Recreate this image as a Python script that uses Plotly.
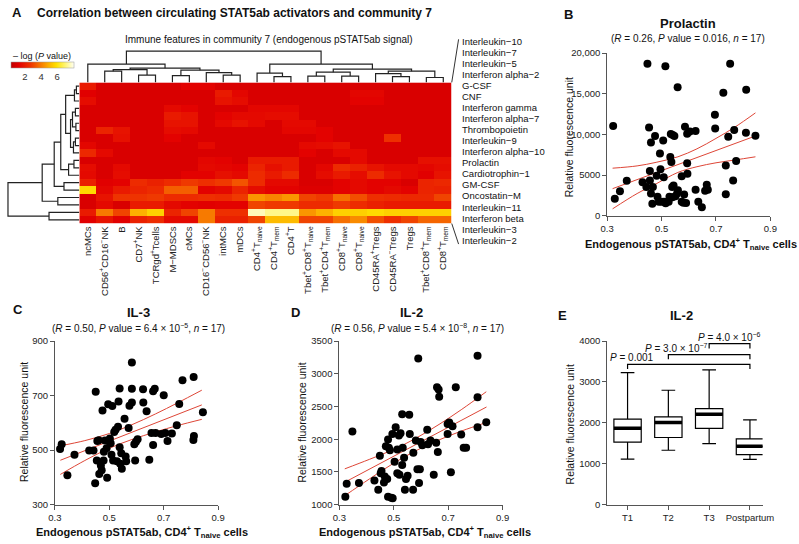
import plotly.graph_objects as go

W, H = 799, 544
FONT = "Arial, Liberation Sans, Helvetica, sans-serif"


def fx(px):
    return px / W


def fy(py):
    return 1 - py / H


# ------------------------------------------------------------------ data
cell_types = [
    "ncMCs", "CD56<sup>+</sup>CD16<sup>−</sup>NK", "B", "CD7<sup>+</sup>NK",
    "TCRgd<sup>+</sup>Tcells", "M−MDSCs", "cMCs", "CD16<sup>−</sup>CD56<sup>−</sup>NK",
    "intMCs", "mDCs", "CD4<sup>+</sup>T<sub>naive</sub>", "CD4<sup>+</sup>T<sub>mem</sub>",
    "CD4<sup>+</sup>T", "Tbet<sup>+</sup>CD8<sup>+</sup>T<sub>naive</sub>",
    "Tbet<sup>+</sup>CD4<sup>+</sup>T<sub>mem</sub>", "CD8<sup>+</sup>T<sub>naive</sub>",
    "CD8<sup>+</sup>T<sub>naive</sub>", "CD45RA<sup>+</sup>Tregs", "CD45RA<sup>−</sup>Tregs",
    "Tregs", "Tbet<sup>+</sup>CD8<sup>+</sup>T<sub>mem</sub>", "CD8<sup>+</sup>T<sub>mem</sub>",
]
cytokines = [
    "Interleukin−10", "Interleukin−7", "Interleukin−5", "Interferon alpha−2", "G-CSF", "CNF",
    "Interferon gamma", "Interferon alpha−7", "Thrombopoietin", "Interleukin−9",
    "Interferon alpha−10", "Prolactin", "Cardiotrophin−1", "GM-CSF", "Oncostatin−M",
    "Interleukin−11", "Interferon beta", "Interleukin−3", "Interleukin−2",
]
# -log10(P) per cytokine (rows) x immune feature (columns)
neglogp = [
    [2.0, 1.0, 1.0, 1.0, 1.0, 1.0, 1.3, 1.3, 1.0, 1.0, 1.0, 1.0, 1.0, 1.0, 1.0, 1.0, 1.0, 1.0, 1.0, 1.0, 1.0, 1.0],
    [1.2, 1.0, 1.0, 1.0, 1.0, 1.0, 1.0, 1.0, 2.0, 1.4, 1.0, 1.0, 1.0, 1.0, 1.0, 1.0, 1.4, 1.4, 1.0, 1.0, 1.0, 1.0],
    [1.6, 1.0, 1.0, 1.0, 1.0, 1.0, 1.0, 1.0, 1.8, 1.6, 1.0, 1.0, 1.0, 1.0, 1.0, 1.0, 1.3, 1.3, 1.0, 1.0, 1.0, 1.0],
    [1.0, 1.0, 1.0, 1.0, 1.0, 1.5, 1.3, 1.0, 1.0, 1.0, 1.4, 1.4, 1.4, 1.0, 1.0, 1.0, 1.0, 1.0, 1.0, 1.0, 1.0, 1.0],
    [1.0, 1.0, 1.0, 1.0, 1.0, 2.0, 1.8, 1.0, 1.3, 1.5, 1.5, 1.6, 1.6, 1.0, 1.0, 1.0, 1.0, 1.0, 1.0, 1.0, 1.0, 1.0],
    [1.0, 1.0, 1.0, 1.0, 1.0, 1.8, 1.8, 1.0, 1.5, 1.8, 1.5, 1.0, 1.5, 1.5, 1.0, 1.0, 1.0, 1.0, 1.0, 1.0, 1.0, 1.0],
    [1.0, 2.3, 1.8, 1.0, 1.0, 1.6, 1.5, 1.0, 1.0, 1.0, 1.0, 1.0, 1.4, 1.4, 1.3, 1.0, 1.0, 1.0, 1.0, 1.0, 1.0, 1.0],
    [1.0, 1.0, 1.7, 1.0, 1.0, 1.3, 1.0, 1.0, 1.0, 1.0, 1.0, 1.0, 1.0, 1.0, 1.3, 1.0, 1.0, 1.0, 2.6, 1.0, 1.0, 1.0],
    [1.4, 1.0, 1.0, 1.0, 1.0, 1.0, 1.0, 1.5, 1.0, 1.0, 1.0, 1.0, 1.0, 1.5, 1.6, 1.8, 1.0, 1.0, 1.0, 1.0, 1.0, 1.0],
    [2.4, 1.5, 1.0, 1.0, 1.0, 1.0, 1.0, 1.0, 1.0, 1.0, 1.0, 1.0, 1.0, 1.3, 1.0, 1.5, 1.5, 1.0, 1.0, 1.0, 1.0, 1.0],
    [1.0, 1.0, 1.0, 1.0, 1.0, 1.0, 1.0, 1.4, 1.3, 1.0, 2.0, 2.0, 2.0, 1.0, 1.0, 1.0, 1.5, 1.0, 1.0, 1.0, 1.7, 1.7],
    [1.6, 1.0, 1.5, 1.0, 1.0, 1.0, 1.0, 1.5, 1.4, 1.3, 2.3, 1.7, 2.0, 1.0, 1.4, 2.5, 2.2, 1.8, 1.5, 1.5, 1.4, 1.6],
    [1.5, 1.0, 1.6, 1.0, 1.0, 1.0, 1.3, 1.3, 1.7, 1.5, 2.5, 2.0, 2.5, 1.0, 1.6, 2.0, 1.6, 2.5, 1.8, 1.5, 1.2, 1.8],
    [2.2, 1.2, 1.3, 2.5, 2.2, 2.5, 2.8, 2.6, 2.8, 3.3, 2.5, 1.5, 1.5, 1.0, 1.0, 1.3, 1.5, 1.3, 1.3, 1.0, 2.3, 2.4],
    [5.8, 1.4, 2.0, 2.3, 2.5, 3.5, 3.5, 1.3, 1.5, 2.3, 1.6, 1.3, 1.3, 1.1, 1.1, 1.3, 1.5, 1.3, 1.5, 1.3, 2.3, 2.2],
    [1.0, 1.8, 2.7, 2.7, 2.8, 2.5, 2.5, 2.6, 2.5, 2.8, 4.5, 4.2, 4.5, 3.0, 2.8, 3.8, 3.2, 2.6, 2.5, 2.4, 2.4, 3.0],
    [1.0, 1.5, 1.0, 2.0, 2.0, 1.5, 1.3, 1.2, 1.3, 1.3, 3.0, 2.8, 2.8, 2.5, 2.5, 2.8, 2.5, 2.2, 2.0, 2.0, 2.0, 2.0],
    [2.0, 4.0, 3.0, 5.0, 5.6, 2.3, 3.0, 4.0, 2.6, 2.6, 7.6, 7.2, 7.2, 4.5, 5.0, 5.6, 5.6, 5.8, 5.6, 5.6, 5.6, 5.6],
    [1.2, 1.8, 1.2, 2.2, 2.5, 1.5, 1.5, 4.0, 2.2, 2.2, 3.0, 5.2, 5.2, 3.0, 3.0, 3.8, 4.3, 3.2, 2.6, 3.0, 3.6, 3.6],
]
colorbar_ticks = [2, 4, 6]

# dendrograms: (left, right, merge height); leaves are column / row indices
col_tree = (
    (0, (((1, 2, 11.5), (3, 4, 7.5), 13.0),
         ((5, 6, 7.0), (7, (8, 9, 7.5), 10.0), 12.5), 14.5), 18.7),
    ((10, (11, 12, 6.0), 9.5),
     (((13, 14, 6.5), (15, 16, 6.5), 10.5),
      ((17, (18, 19, 6.0), 9.0), (20, 21, 5.0), 11.5), 13.5), 18.7),
    32.0,
)
row_tree = (
    ((((((0, 1, 3.0), 2, 5.0),
         (((3, 4, 4.0), (5, 6, 3.5), 7.0), ((7, 8, 4.0), 9, 6.0), 9.0), 14.0),
        ((10, 11, 5.5), 12, 11.0), 19.0),
       (13, 14, 15.7), 25.7),
      (15, 16, 22.0), 38.0),
    (17, 18, 31.0),
    73.0,
)

# panel B: prolactin
prl_x = [0.322, 0.328, 0.347, 0.372, 0.43, 0.444, 0.448, 0.454, 0.457, 0.457, 0.461, 0.461,
         0.468, 0.466, 0.476, 0.482, 0.485, 0.49, 0.494, 0.496, 0.5, 0.506, 0.508, 0.509,
         0.514, 0.515, 0.526, 0.529, 0.532, 0.534, 0.536, 0.539, 0.54, 0.541, 0.544, 0.547,
         0.551, 0.557, 0.559, 0.56, 0.574, 0.574, 0.58, 0.583, 0.586, 0.59, 0.594, 0.594,
         0.595, 0.604, 0.625, 0.625, 0.635, 0.648, 0.66, 0.67, 0.666, 0.696, 0.697, 0.736,
         0.736, 0.727, 0.745, 0.752, 0.767, 0.763, 0.774, 0.81, 0.811, 0.845]
prl_y = [11040, 2080, 3000, 4280, 4120, 3520, 18680, 10840, 5480, 4320, 2720, 9000,
         3520, 1480, 9800, 4920, 2320, 1720, 7640, 5720, 1720, 9240, 4720, 1720,
         18360, 1520, 1720, 2320, 7200, 10040, 6600, 3520, 2280, 9920, 3720, 9800,
         2400, 2720, 15800, 3120, 4840, 1720, 1600, 2600, 10920, 1560, 6440, 10080,
         5160, 10360, 10400, 3200, 1720, 1040, 3080, 3200, 3800, 12400, 10720, 6160,
         2640, 15120, 9720, 18680, 10520, 4320, 6720, 10200, 15480, 9840]
prl_fit_x = [0.32, 0.845]
prl_fit_y = [3320, 9800]
prl_band_x = [0.32, 0.41, 0.48, 0.56, 0.63, 0.70, 0.77, 0.845]
prl_upper = [5840, 6120, 6560, 7240, 8220, 9500, 10900, 12640]
prl_lower = [840, 2720, 3920, 5320, 6020, 6500, 6850, 7240]

# panel C: IL-3
il3_x = [0.319, 0.325, 0.346, 0.372, 0.426, 0.442, 0.45, 0.448, 0.454, 0.456, 0.461, 0.463,
         0.469, 0.472, 0.475, 0.479, 0.48, 0.484, 0.49, 0.492, 0.496, 0.497, 0.502, 0.505,
         0.508, 0.511, 0.514, 0.518, 0.523, 0.528, 0.532, 0.534, 0.538, 0.538, 0.54, 0.544,
         0.546, 0.556, 0.56, 0.562, 0.571, 0.574, 0.583, 0.583, 0.583, 0.592, 0.595, 0.598,
         0.604, 0.624, 0.625, 0.637, 0.647, 0.655, 0.661, 0.661, 0.667, 0.67, 0.691, 0.7,
         0.706, 0.714, 0.73, 0.748, 0.757, 0.769, 0.81, 0.811, 0.809, 0.844]
il3_y = [504, 522, 408, 483, 499, 499, 714, 379, 462, 534, 536, 413,
         444, 426, 645, 462, 494, 535, 507, 399, 668, 534, 543, 525,
         483, 662, 462, 567, 575, 459, 586, 678, 726, 511, 450, 489,
         432, 615, 477, 459, 581, 663, 821, 675, 725, 522, 462, 531,
         540, 723, 675, 643, 465, 563, 519, 716, 725, 563, 559, 701,
         563, 534, 561, 591, 669, 756, 768, 552, 537, 639]
il3_fit_x = [0.32, 0.84]
il3_fit_y = [463, 666]
il3_band_x = [0.32, 0.41, 0.5, 0.58, 0.67, 0.75, 0.84]
il3_upper = [516, 535, 561, 592, 633, 673, 720]
il3_lower = [411, 462, 507, 538, 567, 590, 613]

# panel D: IL-2
il2_x = [0.322, 0.327, 0.348, 0.372, 0.429, 0.443, 0.449, 0.452, 0.455, 0.464, 0.467, 0.471,
         0.476, 0.479, 0.479, 0.482, 0.486, 0.491, 0.495, 0.496, 0.503, 0.507, 0.513, 0.513,
         0.519, 0.521, 0.525, 0.531, 0.531, 0.533, 0.538, 0.541, 0.545, 0.551, 0.557, 0.559,
         0.571, 0.572, 0.581, 0.587, 0.59, 0.593, 0.596, 0.599, 0.605, 0.623, 0.626, 0.635,
         0.647, 0.656, 0.659, 0.662, 0.665, 0.667, 0.698, 0.698, 0.704, 0.71, 0.716, 0.728,
         0.748, 0.757, 0.766, 0.808, 0.808, 0.808, 0.84]
il2_y = [1120, 1321, 2117, 1331, 1371, 1230, 1747, 1481, 1516, 1341, 1431, 1892,
         1391, 1997, 1120, 1872, 1832, 1105, 2082, 1100, 1656, 2182, 1842, 1481,
         2057, 1456, 2092, 2383, 1606, 1872, 1717, 1230, 1391, 1441, 2373, 2082,
         1230, 1792, 1982, 1541, 3234, 1331, 1541, 1957, 1907, 2147, 1922, 1982,
         1456, 1947, 2794, 1807, 2759, 2648, 2232, 2082, 2257, 1496, 2197, 2794,
         2072, 1872, 1872, 3275, 2643, 2183, 2258]
il2_fit_x = [0.314, 0.841]
il2_fit_y = [1330, 2493]
il2_band_x = [0.32, 0.41, 0.5, 0.58, 0.67, 0.75, 0.84]
il2_upper = [1548, 1692, 1845, 2012, 2236, 2457, 2726]
il2_lower = [1138, 1392, 1635, 1822, 1996, 2127, 2256]

# panel E: IL-2 by trimester
groups = ["T1", "T2", "T3", "Postpartum"]
box_low = [1114, 1331, 1491, 1106]
box_q1 = [1531, 1643, 1868, 1226]
box_med = [1868, 2012, 2212, 1427]
box_q3 = [2092, 2148, 2349, 1611]
box_high = [3230, 2798, 3295, 2076]
comparisons = [  # (group a, group b, bracket height, label)
    (1, 4, 3430, "<i>P</i> = 0.001"),
    (2, 4, 3670, "<i>P</i> = 3.0 × 10<sup>−7</sup>"),
    (3, 4, 3936, "<i>P</i> = 4.0 × 10<sup>−6</sup>"),
]

# ------------------------------------------------------------------ helpers
def dendro(tree):
    xs, ys = [], []

    def rec(node):
        if isinstance(node, int):
            return float(node), 0.0
        l, r, h = node
        xl, hl = rec(l)
        xr, hr = rec(r)
        xs.extend([xl, xl, xr, xr, None])
        ys.extend([hl, h, h, hr, None])
        return (xl + xr) / 2, h

    rec(tree)
    return xs, ys


fig = go.Figure()

heat_cs = [
    [0.0, "#C00000"], [0.12, "#E20000"], [0.3, "#EE3000"], [0.45, "#F67000"],
    [0.6, "#FDB000"], [0.72, "#FFE000"], [0.85, "#FFF46A"], [1.0, "#FFFFF4"],
]
fig.add_trace(go.Heatmap(
    z=neglogp, x=list(range(len(cell_types))), y=list(range(len(cytokines))),
    colorscale=heat_cs, zmin=0.3, zmax=8.1, xaxis="x", yaxis="y", hoverinfo="skip",
    colorbar=dict(orientation="h", x=fx(36.5), xanchor="center", y=fy(57), yanchor="top",
                  len=63, lenmode="pixels", thickness=6, thicknessmode="pixels",
                  xpad=0, ypad=0, outlinewidth=0.5, outlinecolor="#999",
                  tickvals=colorbar_ticks, ticks="", ticklabelposition="outside bottom",
                  tickfont=dict(size=9.5, color="#333", family=FONT)),
))

dx, dy = dendro(col_tree)
fig.add_trace(go.Scatter(x=dx, y=dy, mode="lines", line=dict(color="#222", width=1.2),
                         xaxis="x2", yaxis="y2", hoverinfo="skip", showlegend=False))
rx, ry = dendro(row_tree)
fig.add_trace(go.Scatter(x=ry, y=rx, mode="lines", line=dict(color="#222", width=1.2),
                         xaxis="x3", yaxis="y3", hoverinfo="skip", showlegend=False))

RED = "rgb(222,70,55)"


def scatter_panel(xv, yv, fitx, fity, bx, bu, bl, ax):
    xa, ya = "x" + ax, "y" + ax
    for yy, xx in ((bu, bx), (bl, bx), (fity, fitx)):
        fig.add_trace(go.Scatter(x=xx, y=yy, mode="lines", line=dict(color=RED, width=1, shape="spline"),
                                 xaxis=xa, yaxis=ya, hoverinfo="skip", showlegend=False))
    fig.add_trace(go.Scatter(x=xv, y=yv, mode="markers", marker=dict(color="black", size=8),
                             xaxis=xa, yaxis=ya, cliponaxis=False, hoverinfo="skip",
                             showlegend=False))


scatter_panel(prl_x, prl_y, prl_fit_x, prl_fit_y, prl_band_x, prl_upper, prl_lower, "4")
scatter_panel(il3_x, il3_y, il3_fit_x, il3_fit_y, il3_band_x, il3_upper, il3_lower, "5")
scatter_panel(il2_x, il2_y, il2_fit_x, il2_fit_y, il2_band_x, il2_upper, il2_lower, "6")

pos = list(range(1, len(groups) + 1))
BOXW = 0.67
fig.add_trace(go.Box(x=pos, q1=box_q1, median=box_med, q3=box_q3, lowerfence=box_low,
                     upperfence=box_high, width=BOXW, whiskerwidth=0.5, fillcolor="white",
                     line=dict(color="black", width=1.2), boxpoints=False,
                     xaxis="x7", yaxis="y7", hoverinfo="skip", showlegend=False))
mx, my = [], []
for p, m in zip(pos, box_med):
    mx += [p - BOXW / 2, p + BOXW / 2, None]
    my += [m, m, None]
fig.add_trace(go.Scatter(x=mx, y=my, mode="lines", line=dict(color="black", width=3.5),
                         xaxis="x7", yaxis="y7", hoverinfo="skip", showlegend=False))
bxs, bys = [], []
LEG = 115
for a, b, h, _ in comparisons:
    bxs += [a, a, b, b, None]
    bys += [h - LEG, h, h, h - LEG, None]
fig.add_trace(go.Scatter(x=bxs, y=bys, mode="lines", line=dict(color="black", width=1.2),
                         xaxis="x7", yaxis="y7", cliponaxis=False, hoverinfo="skip",
                         showlegend=False))

# ------------------------------------------------------------------ layout
def ax_common(**kw):
    d = dict(showline=True, linecolor="#555", linewidth=1, ticks="outside", ticklen=4,
             tickwidth=1, tickcolor="#555", showgrid=False, zeroline=False,
             tickfont=dict(size=9.5, color="#222", family=FONT), fixedrange=True)
    d.update(kw)
    return d


hm_x = [fx(74), fx(455)]
hm_y = [fy(222), fy(78)]
ncol, nrow = len(cell_types), len(cytokines)
E_X = (614, 773, 0.5, 4.31)   # px left, px right, range lo, range hi of panel E x axis
E_Y = (509, 342, 0, 4000)     # px bottom, px top, range lo, range hi of panel E y axis
layout = dict(
    width=W, height=H, margin=dict(l=0, r=0, t=0, b=0), paper_bgcolor="white",
    plot_bgcolor="white", showlegend=False, font=dict(family=FONT, color="#111"),
    xaxis=dict(domain=hm_x, range=[-0.5, ncol - 0.5], tickvals=list(range(ncol)),
               ticktext=cell_types, tickangle=-90, ticks="", showline=False, showgrid=False,
               zeroline=False, tickfont=dict(size=9.5, color="#222", family=FONT)),
    yaxis=dict(domain=hm_y, range=[nrow - 0.5, -0.5], showticklabels=False, ticks="",
               showgrid=False, zeroline=False, showline=False),
    xaxis2=dict(domain=hm_x, range=[-0.5, ncol - 0.5], visible=False, anchor="y2"),
    yaxis2=dict(domain=[fy(78), fy(44)], range=[0, 34], visible=False, anchor="x2"),
    xaxis3=dict(domain=[fx(0), fx(74)], range=[74, 0], visible=False, anchor="y3"),
    yaxis3=dict(domain=hm_y, range=[nrow - 0.5, -0.5], visible=False, anchor="x3"),
    xaxis4=ax_common(domain=[fx(614), fx(781)], range=[0.3, 0.9], tickvals=[0.3, 0.5, 0.7, 0.9],
                     anchor="y4"),
    yaxis4=ax_common(domain=[fy(214), fy(48)], range=[0, 20000],
                     tickvals=[0, 5000, 10000, 15000, 20000],
                     ticktext=["0", "5000", "10,000", "15,000", "20,000"], anchor="x4"),
    xaxis5=ax_common(domain=[fx(49), fx(216)], range=[0.3, 0.9], tickvals=[0.3, 0.5, 0.7, 0.9],
                     anchor="y5"),
    yaxis5=ax_common(domain=[fy(509), fy(342)], range=[300, 900], tickvals=[300, 500, 700, 900],
                     anchor="x5"),
    xaxis6=ax_common(domain=[fx(340), fx(507)], range=[0.3, 0.9], tickvals=[0.3, 0.5, 0.7, 0.9],
                     anchor="y6"),
    yaxis6=ax_common(domain=[fy(509), fy(342)], range=[1000, 3500],
                     tickvals=[1000, 1500, 2000, 2500, 3000, 3500], anchor="x6"),
    xaxis7=ax_common(domain=[fx(E_X[0]), fx(E_X[1])], range=[E_X[2], E_X[3]], tickvals=pos,
                     ticktext=groups, anchor="y7"),
    yaxis7=ax_common(domain=[fy(E_Y[0]), fy(E_Y[1])], range=[E_Y[2], E_Y[3]],
                     tickvals=[0, 1000, 2000, 3000, 4000], anchor="x7"),
)

ann = []


def txt(x, y, t, size=10, bold=False, anchor="center", angle=0, color="#111"):
    if bold:
        t = "<b>" + t + "</b>"
    ann.append(dict(x=fx(x), y=fy(y), xref="paper", yref="paper", text=t, showarrow=False,
                    xanchor=anchor, yanchor="middle", textangle=angle,
                    font=dict(size=size, color=color, family=FONT)))


txt(3, 7, "A", 13, True, "left")
txt(29, 7, "Correlation between circulating STAT5ab activators and community 7", 12, True, "left")
txt(268, 34, "Immune features in community 7 (endogenous pSTAT5ab signal)", 10)
txt(4, 51, "– log (<i>P</i> value)", 9, anchor="left")
for i, name in enumerate(cytokines):
    txt(463, 36 + 11.28 * i, name, 9.5, anchor="left")

xtitle = "Endogenous pSTAT5ab, CD4<sup>+</sup> T<sub>naive</sub> cells"
ytitle = "Relative fluorescence unit"
# B
txt(568, 9, "B", 13, True, "left")
txt(697, 18, "Prolactin", 13, True)
txt(697, 33, "(<i>R</i> = 0.26, <i>P</i> value = 0.016, <i>n</i> = 17)", 10)
txt(700, 243, xtitle, 11, True)
txt(575, 134, ytitle, 10.5, angle=-90)
# C
txt(4, 310, "C", 13, True, "left")
txt(135, 313, "IL-3", 13, True)
txt(135, 329, "(<i>R</i> = 0.50, <i>P</i> value = 6.4 × 10<sup>−5</sup>, <i>n</i> = 17)", 10)
txt(138, 537, xtitle, 11, True)
txt(18, 425, ytitle, 10.5, angle=-90)
# D
txt(288, 313, "D", 13, True, "left")
txt(414, 313, "IL-2", 13, True)
txt(420, 329, "(<i>R</i> = 0.56, <i>P</i> value = 5.4 × 10<sup>−8</sup>, <i>n</i> = 17)", 10)
txt(428, 537, xtitle, 11, True)
txt(302, 425, ytitle, 10.5, angle=-90)
# E
txt(562, 316, "E", 13, True, "left")
txt(690, 316, "IL-2", 13, True)
txt(576, 427, ytitle, 10.5, angle=-90)


def e_px(xv):
    return E_X[0] + (xv - E_X[2]) / (E_X[3] - E_X[2]) * (E_X[1] - E_X[0])


def e_py(yv):
    return E_Y[0] + (yv - E_Y[2]) / (E_Y[3] - E_Y[2]) * (E_Y[1] - E_Y[0])


label_x = [lambda a, b: a + 0.12, lambda a, b: a + 0.2, lambda a, b: (a + b) / 2]
for (a, b, h, lab), f in zip(comparisons, label_x):
    txt(e_px(f(a, b)), e_py(h) - 7, lab, 10)

layout["annotations"] = ann
layout["shapes"] = [
    dict(type="line", xref="paper", yref="paper", x0=fx(455), y0=fy(78), x1=fx(462), y1=fy(34),
         line=dict(color="#333", width=1)),
    dict(type="line", xref="paper", yref="paper", x0=fx(455), y0=fy(222), x1=fx(462), y1=fy(243),
         line=dict(color="#333", width=1)),
]
fig.update_layout(**layout)
fig.write_html("out.html", config={"displayModeBar": False},
               post_script="document.body.style.margin='0';")
